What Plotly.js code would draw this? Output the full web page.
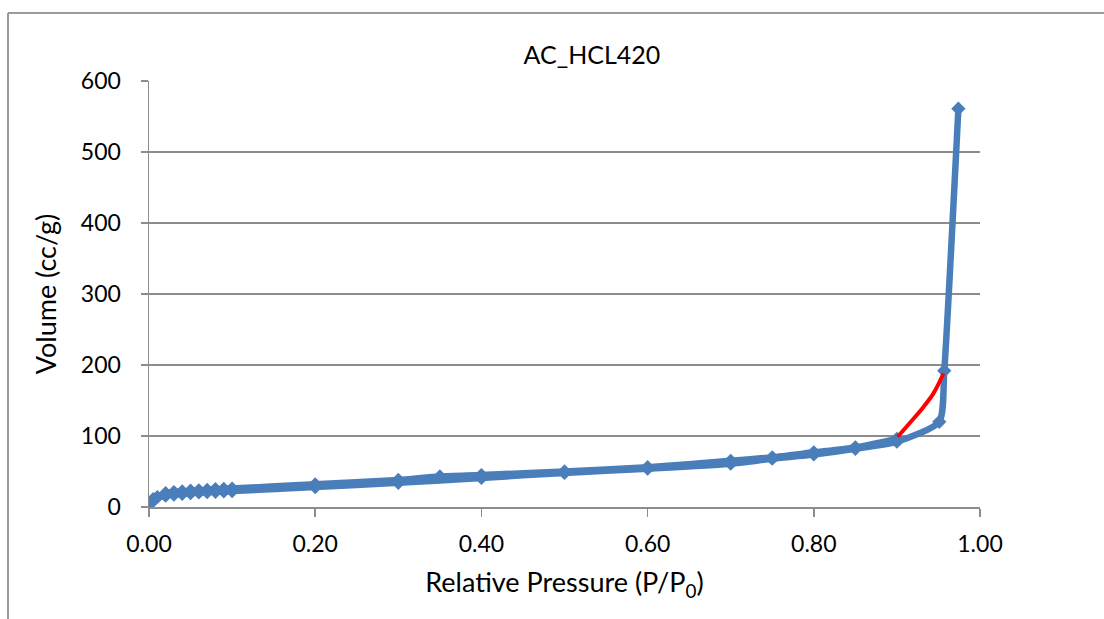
<!DOCTYPE html>
<html>
<head>
<meta charset="utf-8">
<script src="https://cdn.plot.ly/plotly-3.0.1.min.js"></script>
<style>
html,body{margin:0;padding:0;background:#fff;}
#chart{width:1104px;height:619px;}
</style>
</head>
<body>
<div id="chart"></div>
<script>
// Adsorption branch
const adsP = [0.001, 0.003, 0.005, 0.010, 0.020, 0.030, 0.040, 0.050, 0.060, 0.070, 0.080, 0.090, 0.100, 0.200, 0.300, 0.400, 0.500, 0.600, 0.700, 0.750, 0.800, 0.850, 0.900, 0.951, 0.957, 0.974];
const adsV = [4, 8, 11, 14, 16, 17.5, 18.5, 19.5, 20.5, 21, 21.5, 22, 22.5, 28, 34, 41, 48, 54, 61, 68, 74, 82, 92, 120, 192, 561];
// Desorption branch
const desP = [0.900, 0.850, 0.800, 0.750, 0.700, 0.600, 0.500, 0.400, 0.350, 0.300, 0.200, 0.100, 0.090, 0.080, 0.070, 0.060, 0.050, 0.040, 0.030, 0.020];
const desV = [96, 84, 77, 70, 65, 56, 50, 45, 43, 38, 32, 26, 25.5, 25, 24, 23.5, 23, 22, 21, 19.5];
// Hand-drawn red hysteresis closure
const redP = [0.956, 0.944, 0.932, 0.916, 0.901];
const redV = [188, 160, 141, 119, 99];

const xTicks = [0, 0.2, 0.4, 0.6, 0.8, 1.0];
const yTicks = [0, 100, 200, 300, 400, 500, 600];

const blue = '#4a7ebb';
const font = 'Lato, "Open Sans", sans-serif';

const traces = [
  {x: adsP, y: adsV, type: 'scatter', mode: 'lines+markers',
   line: {color: blue, width: 6.5, shape: 'spline', smoothing: 0.6},
   marker: {symbol: 'diamond', size: 11, color: blue}},
  {x: desP, y: desV, type: 'scatter', mode: 'lines+markers',
   line: {color: blue, width: 6.5, shape: 'spline', smoothing: 0.6},
   marker: {symbol: 'diamond', size: 11, color: blue}},
  {x: redP, y: redV, type: 'scatter', mode: 'lines',
   line: {color: '#ff0000', width: 4, shape: 'spline', smoothing: 1}}
];

const L = 149, R = 980, T = 81, B = 507, W = 1104, H = 619;
const pw = R - L, ph = B - T;
const px = v => (v - L) / pw;
const py = v => (B - v) / ph;

const layout = {
  width: W, height: H,
  margin: {l: L, r: W - R, t: T, b: H - B, pad: 0},
  paper_bgcolor: '#fff', plot_bgcolor: '#fff',
  showlegend: false,
  font: {family: font, color: '#000', size: 23},
  title: {text: 'AC_HCL420', font: {family: font, size: 25, color: '#000'},
          x: px(592), xref: 'paper', xanchor: 'center', y: 1 - 55 / H, yref: 'container', yanchor: 'middle'},
  xaxis: {
    range: [0, 1.0], tickvals: xTicks, ticktext: xTicks.map(v => v.toFixed(2)),
    showgrid: false, zeroline: false, showline: true, linecolor: '#8c8c8c', linewidth: 1.5,
    ticks: 'outside', ticklen: 8, tickcolor: '#8c8c8c', tickwidth: 1.5,
    ticklabelstandoff: 8,
    tickfont: {family: font, size: 23, color: '#000'},
    title: {text: 'Relative Pressure (P/P<sub>0</sub>)', font: {family: font, size: 27, color: '#000'}, standoff: 17}
  },
  yaxis: {
    range: [0, 600], tickvals: yTicks,
    showgrid: true, gridcolor: '#8c8c8c', gridwidth: 1.5,
    zeroline: false, showline: true, linecolor: '#8c8c8c', linewidth: 1.5,
    ticks: 'outside', ticklen: 7, tickcolor: '#8c8c8c', tickwidth: 1.5,
    ticklabelstandoff: 15,
    tickfont: {family: font, size: 23, color: '#000'},
    title: {text: 'Volume (cc/g)', font: {family: font, size: 27, color: '#000'}, standoff: 16}
  },
  shapes: [
    {type: 'line', xref: 'paper', yref: 'paper', x0: px(8), x1: px(1104), y0: py(13), y1: py(13),
     line: {color: '#9a9a9a', width: 2}},
    {type: 'line', xref: 'paper', yref: 'paper', x0: px(8), x1: px(8), y0: py(13), y1: py(619),
     line: {color: '#9a9a9a', width: 2}}
  ]
};

Plotly.newPlot('chart', traces, layout, {staticPlot: true, displayModeBar: false});
</script>
</body>
</html>
